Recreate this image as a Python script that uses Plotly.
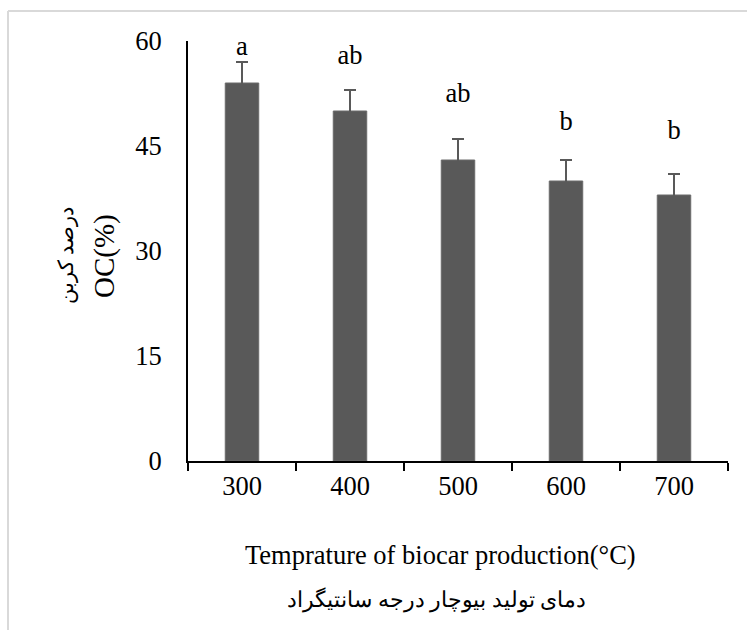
import plotly.graph_objects as go

categories = ["300", "400", "500", "600", "700"]
oc_values = [54, 50, 43, 40, 38]
oc_errors = [3, 3, 3, 3, 3]
group_letters = ["a", "ab", "ab", "b", "b"]
letter_y = [59, 57.6, 52.3, 48.3, 46.9]
y_ticks = [0, 15, 30, 45, 60]

W, H = 747, 630
L, R, T, B = 188, 19, 41, 169
pw, ph = W - L - R, H - T - B

def px(x):
    return (x - L) / pw

def py(y):
    return (H - B - y) / ph

SERIF = "Liberation Serif, Times New Roman, DejaVu Serif, serif"
BAR = "#595959"
FS = 26.5

fig = go.Figure()
fig.add_trace(go.Bar(
    x=categories, y=oc_values,
    marker=dict(color=BAR, line=dict(color="#6a6a6a", width=1)),
    width=0.31,
    error_y=dict(type="data", array=oc_errors, visible=True,
                 color=BAR, thickness=2, width=6),
    showlegend=False,
))
fig.add_trace(go.Scatter(
    x=categories, y=letter_y, mode="text", text=group_letters,
    textposition="middle center",
    textfont=dict(family=SERIF, size=FS, color="black"),
    showlegend=False, cliponaxis=False,
))

fig.update_layout(
    width=W, height=H,
    margin=dict(l=L, r=R, t=T, b=B),
    plot_bgcolor="white", paper_bgcolor="white",
    font=dict(family=SERIF, size=FS, color="black"),
)
fig.update_xaxes(
    type="category", showline=True, linecolor="black", linewidth=2,
    ticks="outside", tickson="boundaries", ticklen=8, tickwidth=2,
    tickcolor="black", showgrid=False, zeroline=False,
    tickfont=dict(family=SERIF, size=FS),
)
fig.update_yaxes(
    range=[0, 60], tickvals=y_ticks, showline=True, linecolor="black",
    linewidth=2, ticks="", showgrid=False, zeroline=False,
    ticklabelstandoff=19,
    tickfont=dict(family=SERIF, size=FS),
)

fig.add_annotation(
    x=px(440), y=py(555), xref="paper", yref="paper",
    text="Temprature of biocar production(°C)", showarrow=False,
    xanchor="center", yanchor="middle",
    font=dict(family=SERIF, size=FS, color="black"),
)
fig.add_annotation(
    x=px(436), y=py(600), xref="paper", yref="paper",
    text="دمای تولید بیوچار درجه سانتیگراد", showarrow=False,
    xanchor="center", yanchor="middle",
    font=dict(family=SERIF, size=22, color="black"),
)
fig.add_annotation(
    x=px(67), y=py(256), xref="paper", yref="paper",
    text="درصد کربن", showarrow=False, textangle=-90,
    xanchor="center", yanchor="middle",
    font=dict(family=SERIF, size=21, color="black"),
)
fig.add_annotation(
    x=px(105), y=py(256), xref="paper", yref="paper",
    text="OC(%)", showarrow=False, textangle=-90,
    xanchor="center", yanchor="middle",
    font=dict(family=SERIF, size=29, color="black"),
)

# light outer frame (top and left edges)
fig.add_shape(type="line", xref="paper", yref="paper",
              x0=px(8), x1=px(747), y0=py(11), y1=py(11),
              line=dict(color="#d9d9d9", width=2))
fig.add_shape(type="line", xref="paper", yref="paper",
              x0=px(8), x1=px(8), y0=py(11), y1=py(630),
              line=dict(color="#d9d9d9", width=2))

fig.write_html("out.html")
